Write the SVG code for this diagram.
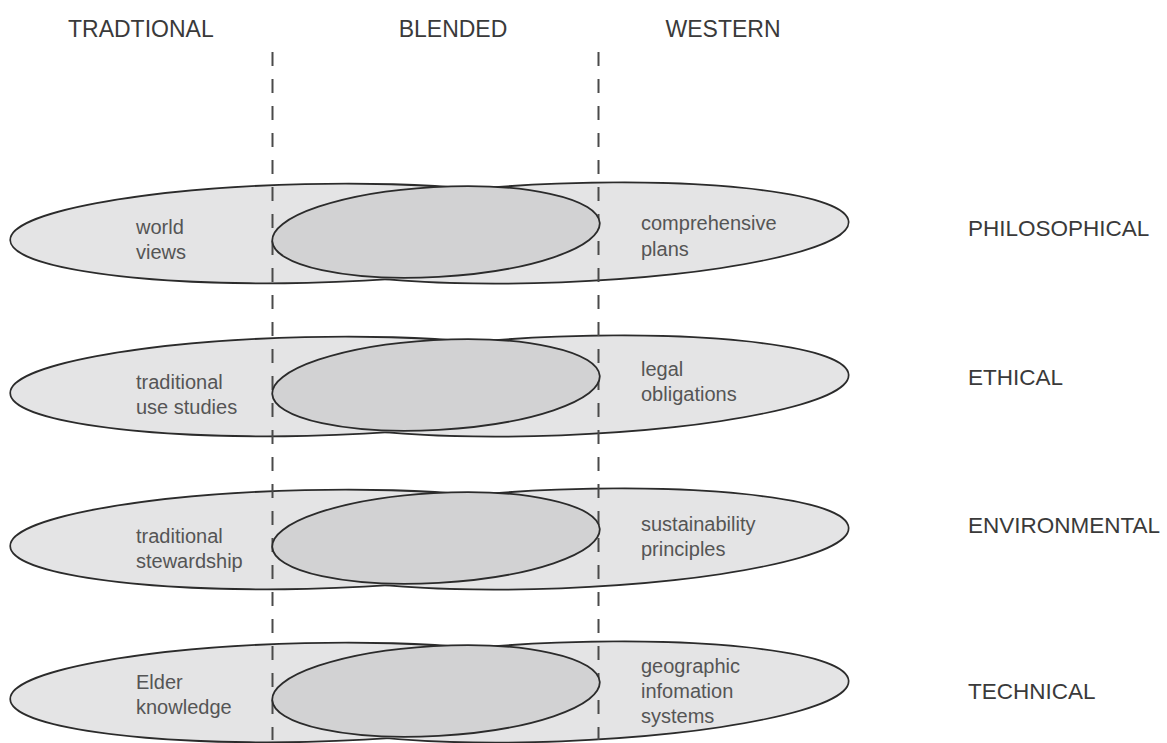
<svg xmlns="http://www.w3.org/2000/svg" xmlns:xlink="http://www.w3.org/1999/xlink" width="1167" height="743" viewBox="0 0 1167 743">
<style>
  .ol { fill: none; stroke: #2b2b2b; stroke-width: 3.4; }
  .of { fill: #e4e4e5; stroke: none; }
  .bl { fill: #d2d2d3; stroke: #2b2b2b; stroke-width: 1.8; }
  .dash { stroke: #4a4a4a; stroke-width: 2; stroke-dasharray: 14 13; fill: none; }
  .hd { font-family: "Liberation Sans", Arial, sans-serif; font-size: 23px; fill: #3a3a3a; }
  .lb { font-family: "Liberation Sans", Arial, sans-serif; font-size: 22.5px; fill: #3a3a3a; }
  .tx { font-family: "Liberation Sans", Arial, sans-serif; font-size: 20px; fill: #555555; }
</style>
<defs>
  <ellipse id="trad" cx="306" cy="233.5" rx="295" ry="48.5" transform="rotate(-1.3 306 233.5)"/>
  <ellipse id="west" cx="559" cy="233" rx="289" ry="48.5" transform="rotate(-2.2 559 233)"/>
  <ellipse id="blend" cx="436" cy="232" rx="164" ry="45" transform="rotate(-3.2 436 232)"/>
</defs>
<rect width="1167" height="743" fill="#ffffff"/>

<g id="headers">
  <text class="hd" x="68" y="37">TRADTIONAL</text>
  <text class="hd" x="453" y="37" text-anchor="middle">BLENDED</text>
  <text class="hd" x="723" y="37" text-anchor="middle">WESTERN</text>
</g>

<g id="row-philosophical-outer">
  <use xlink:href="#trad" class="ol"/><use xlink:href="#west" class="ol"/>
  <use xlink:href="#trad" class="of"/><use xlink:href="#west" class="of"/>
</g>
<g id="row-ethical-outer" transform="translate(0,153)">
  <use xlink:href="#trad" class="ol"/><use xlink:href="#west" class="ol"/>
  <use xlink:href="#trad" class="of"/><use xlink:href="#west" class="of"/>
</g>
<g id="row-environmental-outer" transform="translate(0,306)">
  <use xlink:href="#trad" class="ol"/><use xlink:href="#west" class="ol"/>
  <use xlink:href="#trad" class="of"/><use xlink:href="#west" class="of"/>
</g>
<g id="row-technical-outer" transform="translate(0,459)">
  <use xlink:href="#trad" class="ol"/><use xlink:href="#west" class="ol"/>
  <use xlink:href="#trad" class="of"/><use xlink:href="#west" class="of"/>
</g>

<g id="connectors">
  <line class="dash" x1="272.5" y1="52" x2="272.5" y2="740"/>
  <line class="dash" x1="598.5" y1="52" x2="598.5" y2="740"/>
</g>

<g id="blend-philosophical"><use xlink:href="#blend" class="bl"/></g>
<g id="blend-ethical" transform="translate(0,153)"><use xlink:href="#blend" class="bl"/></g>
<g id="blend-environmental" transform="translate(0,306)"><use xlink:href="#blend" class="bl"/></g>
<g id="blend-technical" transform="translate(0,459)"><use xlink:href="#blend" class="bl"/></g>

<g id="traditional-labels">
  <text class="tx" x="136" y="234">world</text>
  <text class="tx" x="136" y="259">views</text>
  <text class="tx" x="136" y="389">traditional</text>
  <text class="tx" x="136" y="414">use studies</text>
  <text class="tx" x="136" y="543">traditional</text>
  <text class="tx" x="136" y="568">stewardship</text>
  <text class="tx" x="136" y="689">Elder</text>
  <text class="tx" x="136" y="714">knowledge</text>
</g>
<g id="western-labels">
  <text class="tx" x="641" y="230">comprehensive</text>
  <text class="tx" x="641" y="256">plans</text>
  <text class="tx" x="641" y="376">legal</text>
  <text class="tx" x="641" y="401">obligations</text>
  <text class="tx" x="641" y="531">sustainability</text>
  <text class="tx" x="641" y="556">principles</text>
  <text class="tx" x="641" y="673">geographic</text>
  <text class="tx" x="641" y="698">infomation</text>
  <text class="tx" x="641" y="723">systems</text>
</g>
<g id="row-labels">
  <text class="lb" x="968" y="236">PHILOSOPHICAL</text>
  <text class="lb" x="968" y="385">ETHICAL</text>
  <text class="lb" x="968" y="533">ENVIRONMENTAL</text>
  <text class="lb" x="968" y="699">TECHNICAL</text>
</g>
</svg>
